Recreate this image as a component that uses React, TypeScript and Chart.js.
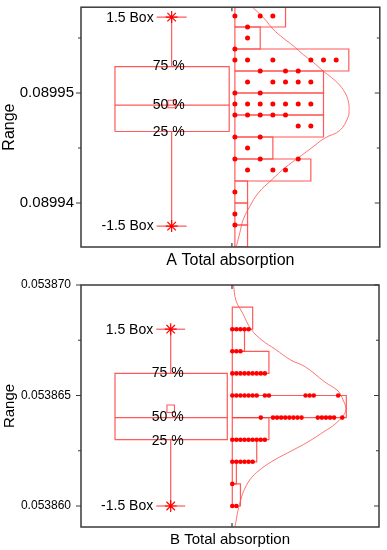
import React, { useEffect, useRef } from 'react';
import { Chart, registerables } from 'chart.js';
Chart.register(...registerables);

const FONT = '"Liberation Sans", Arial, Helvetica, sans-serif';
const W = 387;
const RED = '#ff0000';
const LINE_RED = 'rgba(255, 60, 60, 0.85)';
const CURVE_RED = 'rgba(255, 80, 80, 0.8)';
const AXIS = '#3a3a3a';

const BOX_LABELS = ['-1.5 Box', '25 %', '50 %', '75 %', '1.5 Box'];

// ---------- Panel A ----------
const A_TITLE = 'A Total absorption';
const A_Y_RANGE = [0.089936, 0.0899578];
const A_TICKS = [0.08994, 0.08995];
const A_TICK_LABELS = ['0.08994', '0.08995'];
const A_MINOR_TICKS = [0.089945, 0.089955];
const A_BIN_LOWER = [0.089956, 0.089954, 0.089952, 0.08995, 0.089948, 0.089946, 0.089944, 0.089942, 0.08994, 0.089938, 0.089936];
const A_BIN_WIDTH = 0.000002;
const A_BIN_COUNTS = [4, 2, 9, 7, 7, 7, 3, 6, 1, 1, 1];
const A_DOT_ROWS = [0.089957, 0.089956, 0.089955, 0.089954, 0.089953, 0.089952, 0.089951, 0.08995, 0.089949, 0.089948, 0.089947, 0.089946, 0.089945, 0.089944, 0.089943, 0.089941, 0.089939, 0.089938];
const A_DOT_SLOTS = [[0, 2, 3], [1], [1], [0], [0, 1, 3, 6, 7, 8], [2, 4, 5], [1, 3, 4, 5, 6], [0, 2], [0, 1, 2, 3, 4, 5, 6], [0, 1, 2, 3, 4], [5, 6], [0, 2], [1], [0, 2, 5], [1, 3, 4], [0], [0], [0]];
// [lower whisker, q1, median, q3, upper whisker]
const A_BOX_VALUES = [0.0899379, 0.0899465, 0.0899489, 0.0899524, 0.0899569];
const A_MEAN = 0.089949;
const A_CURVE_VALUES = [0.0899578, 0.0899567, 0.0899558, 0.089955, 0.0899543, 0.0899535, 0.0899528, 0.089952, 0.0899514, 0.0899507, 0.0899499, 0.0899492, 0.0899485, 0.0899478, 0.0899466, 0.0899459, 0.089945, 0.0899441, 0.0899432, 0.0899421, 0.0899409, 0.0899397, 0.0899385, 0.0899373, 0.0899361];
const A_CURVE_COUNTS = [1.4, 2.37, 3.02, 3.81, 4.6, 5.39, 6.18, 6.97, 7.63, 8.29, 8.76, 8.97, 9.02, 8.94, 8.29, 7.1, 6.05, 5.0, 3.95, 2.9, 1.84, 1.18, 0.66, 0.39, 0.13];

// ---------- Panel B ----------
const B_TITLE = 'B Total absorption';
const B_Y_RANGE = [0.05385905, 0.05387];
const B_TICKS = [0.05386, 0.053865, 0.05387];
const B_TICK_LABELS = ['0.053860', '0.053865', '0.053870'];
const B_MINOR_TICKS = [0.0538625, 0.0538675];
const B_BIN_LOWER = [0.053868, 0.053867, 0.053866, 0.053865, 0.053864, 0.053863, 0.053862, 0.053861, 0.05386];
const B_BIN_WIDTH = 0.000001;
const B_BIN_COUNTS = [5, 3, 9, 0, 28, 9, 6, 1, 2];
const B_DOT_ROWS = [0.053868, 0.053867, 0.053866, 0.053865, 0.053864, 0.053863, 0.053862, 0.053861, 0.05386];
const B_DOT_SLOTS = [
  [0, 1, 2, 3, 4],
  [0, 1, 2],
  [0, 1, 2, 3, 4, 5, 6, 7, 8],
  [0, 1, 2, 3, 4, 5, 6, 8, 9, 18, 19, 20, 26],
  [7, 10, 11, 12, 13, 14, 15, 16, 17, 21, 22, 23, 24, 25, 27],
  [0, 1, 2, 3, 4, 5, 6, 7, 8],
  [0, 1, 2, 3, 4, 5],
  [0],
  [0, 1],
];
const B_BOX_VALUES = [0.05386, 0.053863, 0.053864, 0.053866, 0.053868];
const B_MEAN = 0.0538644;
const B_CURVE_VALUES = [0.05387, 0.0538693, 0.0538687, 0.053868, 0.0538675, 0.0538671, 0.0538666, 0.0538663, 0.0538656, 0.0538652, 0.0538648, 0.0538644, 0.0538641, 0.0538637, 0.0538634, 0.0538629, 0.0538625, 0.0538621, 0.0538617, 0.0538613, 0.0538608, 0.0538603, 0.0538598, 0.0538595, 0.0538591];
const B_CURVE_COUNTS = [0.3, 0.9, 2.6, 4.6, 7.3, 10.5, 14.4, 17.9, 22.8, 26.0, 27.2, 27.9, 27.3, 25.2, 22.8, 18.6, 14.6, 10.5, 7.2, 4.8, 3.1, 2.1, 1.4, 1.1, 0.7];

const PANEL_A = {
  title: A_TITLE, yRange: A_Y_RANGE, ticks: A_TICKS, tickLabels: A_TICK_LABELS, minorTicks: A_MINOR_TICKS,
  binLower: A_BIN_LOWER, binWidth: A_BIN_WIDTH, binCounts: A_BIN_COUNTS,
  dotRows: A_DOT_ROWS, dotSlots: A_DOT_SLOTS, box: A_BOX_VALUES, mean: A_MEAN,
  curveValues: A_CURVE_VALUES, curveCounts: A_CURVE_COUNTS,
};
const PANEL_B = {
  title: B_TITLE, yRange: B_Y_RANGE, ticks: B_TICKS, tickLabels: B_TICK_LABELS, minorTicks: B_MINOR_TICKS,
  binLower: B_BIN_LOWER, binWidth: B_BIN_WIDTH, binCounts: B_BIN_COUNTS,
  dotRows: B_DOT_ROWS, dotSlots: B_DOT_SLOTS, box: B_BOX_VALUES, mean: B_MEAN,
  curveValues: B_CURVE_VALUES, curveCounts: B_CURVE_COUNTS,
};

// layout (pixels relative to plot-area left edge)
const GEO_A = {
  height: 270, plotTop: 4, xAxisHeight: 23, yAxisWidth: 81, padRight: 7, plotWidth: 299,
  tickFont: 15, titleFont: 16, tickPadding: 7, yTitlePad: 0, xTitlePad: 0,
  boxLeft: 34, boxRight: 148.3, whiskerX: 90.7, capHalf: 15, histBase: 154, catTick: 151,
  histMaxWidth: 114, dotRadius: 2.5, meanRadius: 5.3,
};
const GEO_B = {
  height: 280, plotTop: 15, xAxisHeight: 23, yAxisWidth: 81, padRight: 8, plotWidth: 298,
  tickFont: 12, titleFont: 15, tickPadding: 10, yTitlePad: 0.5, xTitlePad: 1.5,
  boxLeft: 34, boxRight: 146.3, whiskerX: 89.7, capHalf: 14.5, histBase: 151.3, catTick: 151,
  histMaxWidth: 114, dotRadius: 2.3, meanRadius: 5.3,
};

function lineSet(data: any[], color: string, width: number, tension = 0) {
  return {
    data, showLine: true, borderColor: color, borderWidth: width, pointRadius: 0, pointHoverRadius: 0,
    fill: false, tension, backgroundColor: 'transparent',
  };
}

function buildConfig(panel: any, geo: any) {
  const unit = geo.histMaxWidth / Math.max(...panel.binCounts);
  const hx = (c: number) => geo.histBase + c * unit;
  const [lo, q1, med, q3, hi] = panel.box;
  const wx = geo.whiskerX;

  const datasets: any[] = [];
  // dots (topmost)
  const dots: any[] = [];
  panel.dotRows.forEach((v: number, i: number) => {
    panel.dotSlots[i].forEach((s: number) => dots.push({ x: hx(s), y: v }));
  });
  datasets.push({ data: dots, showLine: false, pointRadius: geo.dotRadius, pointHoverRadius: geo.dotRadius, backgroundColor: RED, borderWidth: 0 });
  // whisker end stars
  datasets.push({
    data: [{ x: wx, y: hi }, { x: wx, y: lo }], showLine: false, pointStyle: 'star', pointRadius: 6,
    borderColor: RED, borderWidth: 1.2, backgroundColor: 'transparent',
  });
  // mean square
  datasets.push({
    data: [{ x: wx, y: panel.mean }], showLine: false, pointStyle: 'rect', pointRadius: geo.meanRadius,
    borderColor: LINE_RED, borderWidth: 1.1, backgroundColor: 'transparent',
  });
  // distribution curve
  datasets.push(lineSet(panel.curveValues.map((v: number, i: number) => ({ x: hx(panel.curveCounts[i]), y: v })), CURVE_RED, 1, 0.4));
  // box
  datasets.push(lineSet([
    { x: geo.boxLeft, y: q1 }, { x: geo.boxRight, y: q1 }, { x: geo.boxRight, y: q3 },
    { x: geo.boxLeft, y: q3 }, { x: geo.boxLeft, y: q1 },
  ], LINE_RED, 1.2));
  datasets.push(lineSet([{ x: geo.boxLeft, y: med }, { x: geo.boxRight, y: med }], LINE_RED, 1.2));
  // whiskers & caps
  datasets.push(lineSet([{ x: wx, y: q3 }, { x: wx, y: hi }], LINE_RED, 1.2));
  datasets.push(lineSet([{ x: wx, y: q1 }, { x: wx, y: lo }], LINE_RED, 1.2));
  datasets.push(lineSet([{ x: wx - geo.capHalf, y: hi }, { x: wx + geo.capHalf, y: hi }], LINE_RED, 1.2));
  datasets.push(lineSet([{ x: wx - geo.capHalf, y: lo }, { x: wx + geo.capHalf, y: lo }], LINE_RED, 1.2));
  // histogram bars
  panel.binLower.forEach((b: number, i: number) => {
    const c = panel.binCounts[i];
    const t = b + panel.binWidth;
    datasets.push(lineSet([
      { x: hx(0), y: b }, { x: hx(c), y: b }, { x: hx(c), y: t }, { x: hx(0), y: t }, { x: hx(0), y: b },
    ], LINE_RED, 1.2));
  });

  const overlay = {
    id: 'overlay',
    afterDatasetsDraw(chart: any) {
      const { ctx, scales: { x, y } } = chart;
      ctx.save();
      ctx.fillStyle = '#000';
      ctx.font = `14px ${FONT}`;
      ctx.textBaseline = 'middle';
      ctx.textAlign = 'right';
      const capLeft = x.getPixelForValue(wx - geo.capHalf) - 3;
      ctx.fillText(BOX_LABELS[4], capLeft, y.getPixelForValue(hi) + 1);
      ctx.fillText(BOX_LABELS[0], capLeft, y.getPixelForValue(lo));
      ctx.textAlign = 'center';
      const cx = x.getPixelForValue(wx) - 3;
      ctx.fillText(BOX_LABELS[3], cx, y.getPixelForValue(q3));
      ctx.fillText(BOX_LABELS[2], cx, y.getPixelForValue(med));
      ctx.fillText(BOX_LABELS[1], cx, y.getPixelForValue(q1) + 1);
      ctx.restore();
    },
    afterDraw(chart: any) {
      const { ctx, chartArea: a, scales: { x, y } } = chart;
      ctx.save();
      ctx.strokeStyle = AXIS;
      ctx.lineWidth = 1.5;
      ctx.strokeRect(a.left, a.top, a.right - a.left, a.bottom - a.top);
      ctx.lineWidth = 1.2;
      ctx.beginPath();
      const tick = (vals: number[], len: number) => vals.forEach((v) => {
        const py = y.getPixelForValue(v);
        if (py < a.top - 0.5 || py > a.bottom + 0.5) return;
        ctx.moveTo(a.left - len, py); ctx.lineTo(a.left, py);
        ctx.moveTo(a.right, py); ctx.lineTo(a.right - len, py);
      });
      tick(panel.ticks, 5);
      tick(panel.minorTicks, 3);
      const tx = x.getPixelForValue(geo.catTick);
      ctx.moveTo(tx, a.top); ctx.lineTo(tx, a.top + 4);
      ctx.moveTo(tx, a.bottom); ctx.lineTo(tx, a.bottom - 4);
      ctx.stroke();
      ctx.restore();
    },
  };

  return {
    type: 'scatter',
    data: { datasets },
    options: {
      responsive: false,
      animation: false,
      events: [],
      layout: { padding: { top: geo.plotTop, right: geo.padRight, left: 0, bottom: 0 } },
      plugins: { legend: { display: false }, tooltip: { enabled: false } },
      scales: {
        x: {
          type: 'linear', min: 0, max: geo.plotWidth, position: 'bottom',
          ticks: { display: false },
          grid: { display: false, drawTicks: false },
          border: { display: false },
          title: {
            display: true, text: panel.title, color: '#000',
            font: { family: FONT, size: geo.titleFont },
            padding: { top: 0, bottom: geo.xTitlePad },
          },
          afterFit: (s: any) => { s.height = geo.xAxisHeight; s.paddingLeft = 0; s.paddingRight = 0; },
        },
        y: {
          type: 'linear', min: panel.yRange[0], max: panel.yRange[1], position: 'left',
          afterBuildTicks: (s: any) => { s.ticks = panel.ticks.map((v: number) => ({ value: v })); },
          ticks: {
            color: '#000', padding: geo.tickPadding,
            font: { family: FONT, size: geo.tickFont },
            callback: (_v: any, i: number) => panel.tickLabels[i],
          },
          grid: { display: false, drawTicks: false },
          border: { display: false },
          title: {
            display: true, text: 'Range', color: '#000',
            font: { family: FONT, size: geo.titleFont },
            padding: { top: geo.yTitlePad, bottom: 0 },
          },
          afterFit: (s: any) => { s.width = geo.yAxisWidth; s.paddingTop = 0; s.paddingBottom = 0; },
        },
      },
    },
    plugins: [overlay],
  };
}

function PanelChart({ panel, geo }: { panel: any; geo: any }) {
  const ref = useRef<HTMLCanvasElement>(null);
  useEffect(() => {
    const chart = new Chart(ref.current as HTMLCanvasElement, buildConfig(panel, geo) as any);
    return () => chart.destroy();
  }, []);
  return (
    <canvas
      ref={ref}
      width={W}
      height={geo.height}
      style={{ display: 'block', width: W, height: geo.height }}
    />
  );
}

export default function App() {
  return (
    <div style={{ position: 'absolute', left: 0, top: 0, width: W, height: 550, background: '#fff' }}>
      <PanelChart panel={PANEL_A} geo={GEO_A} />
      <PanelChart panel={PANEL_B} geo={GEO_B} />
    </div>
  );
}
